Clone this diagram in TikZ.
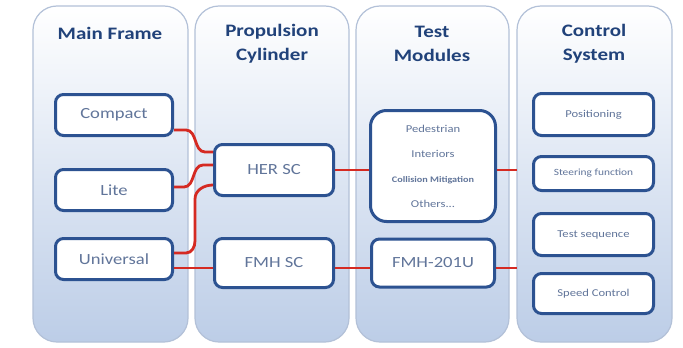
\documentclass[tikz,border=0pt]{standalone}
\usepackage{fontspec}
\setmainfont{Carlito}
\newfontfamily\wide[FakeStretch=1.2]{Carlito}
\usetikzlibrary{backgrounds}
\definecolor{colborder}{HTML}{B3C1D8}
\definecolor{colbot}{HTML}{BCCDE7}
\definecolor{boxblue}{HTML}{2C5291}
\definecolor{hdrcol}{HTML}{21427A}
\definecolor{txtcol}{HTML}{61759A}
\definecolor{linkcol}{HTML}{D52A22}
\tikzset{
  column/.style={draw=colborder, line width=1.2pt, rounded corners=24pt, top color=white, bottom color=colbot, minimum height=336pt, inner sep=0pt},
  header/.style={font=\wide\bfseries\fontsize{17.5}{24}\selectfont, text=hdrcol, align=center},
  box/.style={draw=boxblue, line width=3pt, rounded corners=8pt, fill=white, text=txtcol, inner sep=0pt, font=\wide\fontsize{15.5}{18}\selectfont},
  smallbox/.style={box, font=\wide\fontsize{10.5}{12}\selectfont},
  link/.style={draw=linkcol, line width=2.8pt}
}
\begin{document}
\begin{tikzpicture}[x=1pt,y=-1pt]
\fill[white] (0,0) rectangle (683,348);
\useasboundingbox (0,0) rectangle (683,348);
% columns
\node[column, minimum width=155pt] (c1) at (110.5,174) {};
\node[column, minimum width=154pt] (c2) at (272,174) {};
\node[column, minimum width=153pt] (c3) at (432.5,174) {};
\node[column, minimum width=155pt] (c4) at (594.5,174) {};
% headers
\node[header] (h1) at (110,33) {Main Frame};
\node[header] (h2) at (272,44) {Propulsion\\Cylinder};
\node[header] (h3) at (432,44) {Test\\Modules};
\node[header] (h4) at (594,44) {Control\\System};
% connectors' free ends at the control-system column
\coordinate (e1) at (517,170);
\coordinate (e2) at (517,268);
% main frame
\node[box, minimum width=117pt, minimum height=41pt] (compact) at (114,115) {Compact};
\node[box, minimum width=117pt, minimum height=41pt] (lite) at (114,190) {Lite};
\node[box, minimum width=117pt, minimum height=41pt] (univ) at (114,259) {Universal};
% propulsion
\node[box, minimum width=119pt, minimum height=51pt] (her) at (274,170) {HER SC};
\node[box, minimum width=119pt, minimum height=49pt] (fmhsc) at (274,263) {FMH SC};
% test modules
\node[box, rounded corners=16pt, minimum width=125pt, minimum height=111pt, align=center,
      font=\wide\fontsize{10.5}{25}\selectfont] (test) at (433,166)
  {Pedestrian\\Interiors\\{\bfseries\fontsize{8.5}{25}\selectfont Collision Mitigation}\\Others...};
\node[box, minimum width=123pt, minimum height=48pt] (fmhu) at (433,263) {FMH-201U};
% control system
\node[smallbox, minimum width=120pt, minimum height=42pt] (pos) at (593.5,114.5) {Positioning};
\node[smallbox, minimum width=120pt, minimum height=34pt, font=\wide\fontsize{9.5}{11}\selectfont] (steer) at (593.5,173.5) {Steering function};
\node[smallbox, minimum width=120pt, minimum height=42pt] (seq) at (593.5,234.5) {Test sequence};
\node[smallbox, minimum width=120pt, minimum height=40pt] (speed) at (593.5,293.5) {Speed Control};
% connectors
\draw[link] ([yshift=-15pt]compact.east) -- ++(12,0) to[out=0,in=180] ([xshift=-8pt,yshift=18pt]her.west) -- ([yshift=18pt]her.west);
\draw[link] ([yshift=3pt]lite.east) -- ++(10,0) to[out=0,in=180] ([xshift=-10pt,yshift=5pt]her.west) -- ([yshift=5pt]her.west);
\draw[link] ([yshift=6pt]univ.east) -- ++(12,0) to[out=0,in=-90] ++(9,-12) -- ++(0,-42) to[out=90,in=180] ([yshift=-15pt]her.west);
\draw[link] ([yshift=-9pt]univ.east) -- ([yshift=-5pt]fmhsc.west);
\draw[link] (her.east) -- ([yshift=-4pt]test.west);
\draw[link] ([yshift=-4pt]test.east) -- (e1);
\draw[link] ([yshift=-5pt]fmhsc.east) -- ([yshift=-5pt]fmhu.west);
\draw[link] ([yshift=-5pt]fmhu.east) -- (e2);
\end{tikzpicture}
\end{document}
